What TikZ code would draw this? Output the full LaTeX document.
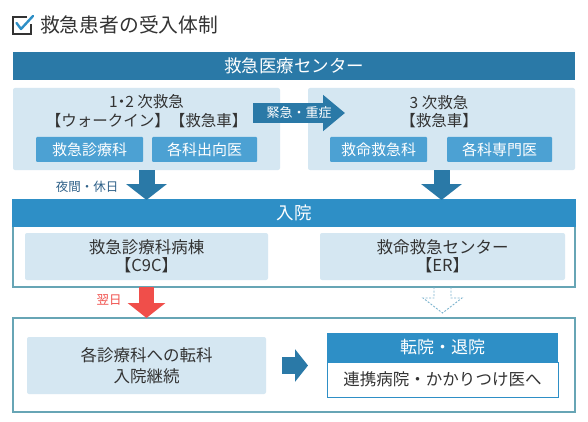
\documentclass[tikz,border=0pt]{standalone}
\usepackage{fontspec}
\setmainfont{Noto Sans CJK JP}
\usetikzlibrary{arrows.meta}
\usetikzlibrary{calc}
\definecolor{hdrblue}{HTML}{2A79A7}
\definecolor{barblue}{HTML}{2E8FC6}
\definecolor{subblue}{HTML}{4CA1D3}
\definecolor{paleblue}{HTML}{D5E7F2}
\definecolor{rimteal}{HTML}{67A5B5}
\definecolor{warnred}{HTML}{F04E4A}
\definecolor{inkgray}{HTML}{333333}
\definecolor{nightblue}{HTML}{2F6189}
\definecolor{dashblue}{HTML}{7DB5CF}

\begin{document}
\begin{tikzpicture}[x=1pt,y=-1pt,
        every node/.style={inner sep=0pt,outer sep=0pt,text=inkgray},
        bar/.style={fill=#1,anchor=north west,text=white,font=\fontsize{17.5}{20}\selectfont},
        pale/.style={fill=paleblue,rounded corners=2pt,anchor=north west},
        dept/.style={fill=subblue,text=white,anchor=north west,rounded corners=1pt,
            minimum height=25pt,font=\fontsize{15}{18}\selectfont},
        frame/.style={draw=rimteal,line width=1.4pt,anchor=north west},
        blockarrow/.style={draw=#1,line width=16pt}]
        \path[use as bounding box,fill=white] (0,0) rectangle (588,422);

        % title with check box
        \draw[inkgray,line width=1.8pt] (27,17) -- (13,17) -- (13,34) -- (31,34) -- (31,24);
        \draw[barblue,line width=2.4pt,line cap=round,line join=round] (16.5,23) -- (21,29) -- (33,16);
        \node[anchor=west,font=\fontsize{19.8}{22}\selectfont] (title) at (40,25) {救急患者の受入体制};

        % emergency center
        \node[bar=hdrblue,minimum width=562pt,minimum height=28pt] (center) at (13,52) {救急医療センター};
        \node[pale,minimum width=267pt,minimum height=82pt] (lvl12) at (13,88) {};
        \node[pale,minimum width=267pt,minimum height=82pt] (lvl3) at (308,88) {};
        \node[align=center,font=\fontsize{15.5}{19}\selectfont] (lvl12txt) at (146.5,111) {1\kern-4pt・\kern-4pt2 次救急\\【ウォークイン】【救急車】};
        \node[align=center,font=\fontsize{15.5}{18}\selectfont] (lvl3txt) at (439,112) {3 次救急\\【救急車】};
        \node[dept,minimum width=107pt] (er1) at (36,137) {救急診療科};
        \node[dept,minimum width=105pt] (dis1) at (152,137) {各科出向医};
        \node[dept,minimum width=97pt] (cc1) at (330,137) {救命救急科};
        \node[dept,minimum width=105pt] (spec1) at (447,137) {各科専門医};

        \draw[blockarrow=hdrblue,line width=20pt,-{Triangle[width=35pt,length=22pt]}]
            ($(lvl12.north east)+(-27,25)$) -- ($(lvl3.north west)+(37,25)$)
            node[midway,text=white,font=\fontsize{13}{15}\selectfont] (urgent) {緊急・重症};

        % admission
        \node[frame,minimum width=562pt,minimum height=87pt] (adm) at (13,200) {};
        \node[bar=barblue,minimum width=563.4pt,minimum height=28pt] (admbar) at (12.3,199.3) {入院};
        \node[pale,minimum width=243pt,minimum height=47pt,align=center,font=\fontsize{16.5}{17.5}\selectfont] (ward) at (25,233) {救急診療科病棟\\【C9C】};
        \node[pale,minimum width=245pt,minimum height=47pt,align=center,font=\fontsize{16.5}{17.5}\selectfont] (er) at (320,233) {救命救急センター\\【ER】};

        \draw[blockarrow=hdrblue,-{Triangle[width=40pt,length=16pt]}] (lvl12.south) -- (lvl12.south |- adm.north);
        \draw[blockarrow=hdrblue,-{Triangle[width=40pt,length=16pt]}] (lvl3.south) -- (lvl3.south |- adm.north);
        \node[text=nightblue,font=\fontsize{12.5}{14}\selectfont] (night) at (87,187) {夜間・休日};

        % after admission
        \node[frame,minimum width=562pt,minimum height=94pt] (after) at (13,318) {};
        \node[pale,minimum width=239pt,minimum height=57pt,align=center,font=\fontsize{16.5}{21}\selectfont] (cont) at (27,337) {各診療科への転科\\入院継続};
        \node[bar=barblue,minimum width=231pt,minimum height=29pt,font=\fontsize{17}{20}\selectfont] (move) at (327,333) {転院・退院};
        \node[draw=barblue,line width=1pt,fill=white,anchor=north west,minimum width=231pt,minimum height=35pt,
            font=\fontsize{16.5}{19}\selectfont] (link) at (327,362) {連携病院・かかりつけ医へ};

        \draw[blockarrow=warnred,line width=15pt,-{Triangle[width=37pt,length=15pt]}] (adm.south -| ward.south) -- (ward.south |- after.north);
        \node[text=warnred,font=\fontsize{12.5}{14}\selectfont] (nextday) at (109,300) {翌日};

        \coordinate (dtop) at (adm.south -| er.south);
        \coordinate (dtip) at (er.south |- after.north);
        \draw[dashblue,dash pattern=on 2pt off 1.5pt,line width=0.9pt]
            ($(dtop)+(-8.5,0)$) -- ($(dtop)+(-8.5,11)$) -- ($(dtop)+(-19.5,11)$) -- ($(dtip)+(0,-5)$)
            -- ($(dtop)+(19.5,11)$) -- ($(dtop)+(8.5,11)$) -- ($(dtop)+(8.5,0)$);

        \draw[blockarrow=hdrblue,line width=17pt,-{Triangle[width=32pt,length=13pt]}]
            ([xshift=16pt]cont.east) -- ([xshift=-19pt]cont.east -| move.west);
    \end{tikzpicture}
\end{document}
